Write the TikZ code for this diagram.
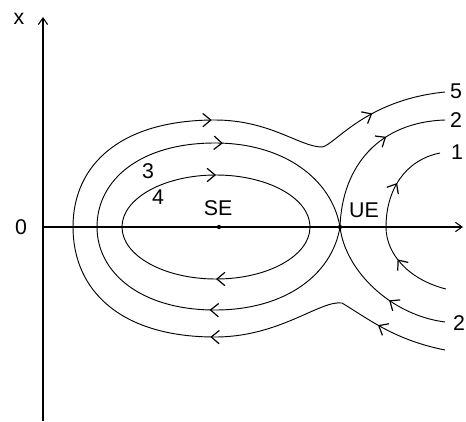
\documentclass[tikz,border=0pt]{standalone}
\usepackage{fontspec}
\setmainfont{Liberation Sans}
\usetikzlibrary{arrows.meta,decorations.markings}

\begin{document}
\begin{tikzpicture}[
    x=0.75pt, y=-0.75pt,
    traj/.style={line width=0.7pt},
    axis/.style={line width=0.8pt, -{Straight Barb[length=5pt,width=7pt]}},
    arr/.style={postaction={decorate, decoration={markings, mark=at position #1 with {\arrow{Straight Barb[length=6pt,width=10pt,line width=0.9pt]}}}}},
    lbl/.style={font=\fontsize{16}{18}\selectfont, inner sep=0pt},
]
\useasboundingbox (0,0) rectangle (466,421);

\coordinate (o) at (43,227);
\coordinate (xtip) at (43,17);
\coordinate (xbot) at (43,421);
\coordinate (ttip) at (463,227);
\coordinate (SE) at (219,227);
\coordinate (UE) at (340,227);
\coordinate (c4) at (216,227);

\draw[axis] (xbot) -- (xtip);
\draw[axis] (o) -- (ttip);

\node[lbl] (xlab) at (19,19) {x};
\node[lbl] (zero) at (21,227) {0};
\node[lbl] (selab) at (218,208) {SE};
\node[lbl] (uelab) at (364,210) {UE};
\node[lbl] (l5) at (456,91) {5};
\node[lbl] (l2a) at (456,120) {2};
\node[lbl] (l1) at (457,152) {1};
\node[lbl] (l2b) at (459,323) {2};
\node[lbl] (l3) at (148,171) {3};
\node[lbl] (l4) at (158,197) {4};

% curve 4
\draw[traj, arr=0.25, arr=0.75] (c4) ellipse [x radius=94, y radius=52];

% curve 3
\draw[traj, arr=0.26, arr=0.76] (UE) .. controls (332,275) and (285,310) .. (215,310)
    .. controls (140,310) and (97,272) .. (97,227)
    .. controls (97,180) and (140,143) .. (215,143)
    .. controls (285,143) and (332,180) .. (UE);

% curve 5
\draw[traj, arr=0.08, arr=0.28, arr=0.72, arr=0.915] (445,350) .. controls (395,340) and (370,320) .. (342,303)
    .. controls (320,300) and (280,337) .. (215,337)
    .. controls (120,337) and (73,290) .. (73,227)
    .. controls (73,165) and (120,120) .. (215,120)
    .. controls (270,120) and (300,147) .. (322,147)
    .. controls (335,145) and (365,100) .. (445,92);

% curve 2
\draw[traj, arr=0.63] (UE) .. controls (342,165) and (380,122) .. (445,120);
\draw[traj, arr=0.4] (445,322) .. controls (390,315) and (345,270) .. (UE);

% curve 1
\draw[traj, arr=0.3, arr=0.72] (446,289) .. controls (410,280) and (386,255) .. (386,227)
    .. controls (386,190) and (405,160) .. (440,153);

\fill (SE) circle (1.6pt);
\fill (UE) circle (1.6pt);

\end{tikzpicture}
\end{document}
